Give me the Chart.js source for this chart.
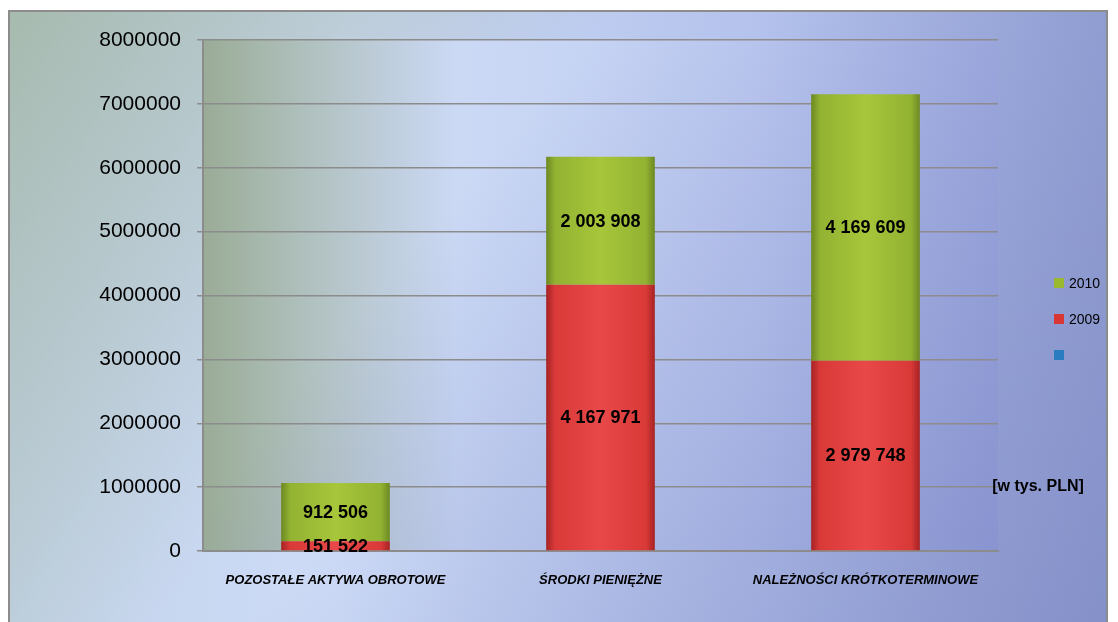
<!DOCTYPE html>
<html>
<head>
<meta charset="utf-8">
<script src="https://cdn.jsdelivr.net/npm/chart.js@4/dist/chart.umd.min.js"></script>
<style>
  html, body { margin: 0; padding: 0; background: #fff; }
  #wrap { width: 1118px; height: 622px; }
</style>
</head>
<body>
<div id="wrap"><canvas id="chart" width="1118" height="622"></canvas></div>
<script>
// dane wykresu
const categories = ['POZOSTAŁE AKTYWA OBROTOWE', 'ŚRODKI PIENIĘŻNE', 'NALEŻNOŚCI KRÓTKOTERMINOWE'];
const values2009 = [151522, 4167971, 2979748];
const values2010 = [912506, 2003908, 4169609];
const valuesEmpty = [null, null, null];
const yTicks = [0, 1000000, 2000000, 3000000, 4000000, 5000000, 6000000, 7000000, 8000000];

const FONT = "'Liberation Sans', Arial, sans-serif";

// gradient dla słupka (efekt wypukłości)
function barFill(base, light, dark) {
    return function (c) {
        const chart = c.chart;
        const x = chart.scales.x;
        if (!x || c.dataIndex === undefined) return base;
        const cx = x.getPixelForValue(c.dataIndex);
        if (!isFinite(cx)) return base;
        const hw = 54;
        const g = chart.ctx.createLinearGradient(cx - hw, 0, cx + hw, 0);
        g.addColorStop(0, dark);
        g.addColorStop(0.08, base);
        g.addColorStop(0.5, light);
        g.addColorStop(0.92, base);
        g.addColorStop(1, dark);
        return g;
    };
}

function fmt(v) {
    return String(v).replace(/\B(?=(\d{3})+(?!\d))/g, ' ');
}

// tło ramki i obszaru wykresu
const backgroundPlugin = {
    id: 'bg',
    beforeDraw(chart) {
        const ctx = chart.ctx;
        const a = chart.chartArea;
        ctx.save();
        ctx.fillStyle = '#ffffff';
        ctx.fillRect(0, 0, chart.width, chart.height);

        // zewnętrzne tło
        let g = ctx.createLinearGradient(9, 0, 1107, 0);
        g.addColorStop(0, '#c4d4ea');
        g.addColorStop(0.3, '#cddbf7');
        g.addColorStop(0.7, '#b3c1ec');
        g.addColorStop(1, '#98a6d8');
        ctx.fillStyle = g;
        ctx.fillRect(9, 11, 1098, 620);
        g = ctx.createLinearGradient(9, 11, 400, 300);
        g.addColorStop(0, 'rgba(160,180,160,0.8)');
        g.addColorStop(1, 'rgba(160,180,160,0)');
        ctx.fillStyle = g;
        ctx.fillRect(9, 11, 1098, 620);
        g = ctx.createLinearGradient(600, 200, 1107, 621);
        g.addColorStop(0, 'rgba(120,130,190,0)');
        g.addColorStop(1, 'rgba(120,130,190,0.6)');
        ctx.fillStyle = g;
        ctx.fillRect(9, 11, 1098, 620);
        ctx.strokeStyle = '#8c8c8c';
        ctx.lineWidth = 2;
        ctx.strokeRect(9, 11, 1098, 620);

        // obszar kreślenia
        g = ctx.createLinearGradient(a.left, 0, a.right, 0);
        g.addColorStop(0, '#9aac96');
        g.addColorStop(0.15, '#b3c3c4');
        g.addColorStop(0.32, '#cbd9f5');
        g.addColorStop(0.7, '#c0cdf2');
        g.addColorStop(1, '#aab6e6');
        ctx.fillStyle = g;
        ctx.fillRect(a.left, a.top, a.right - a.left, a.bottom - a.top);
        g = ctx.createLinearGradient(a.left + 300, a.top + 100, a.right, a.bottom);
        g.addColorStop(0, 'rgba(110,120,190,0)');
        g.addColorStop(1, 'rgba(110,120,190,0.55)');
        ctx.fillStyle = g;
        ctx.fillRect(a.left, a.top, a.right - a.left, a.bottom - a.top);
        ctx.restore();
    }
};

// etykiety wartości i legenda
const labelsPlugin = {
    id: 'labels',
    afterDatasetsDraw(chart) {
        const ctx = chart.ctx;
        ctx.save();
        ctx.font = 'bold 18px ' + FONT;
        ctx.fillStyle = '#000';
        ctx.textAlign = 'center';
        ctx.textBaseline = 'middle';
        chart.data.datasets.forEach((ds, i) => {
            const meta = chart.getDatasetMeta(i);
            meta.data.forEach((el, j) => {
                const v = ds.data[j];
                if (v === null) return;
                const p = el.getProps(['x', 'y', 'base'], true);
                ctx.fillText(fmt(v), p.x, (p.y + p.base) / 2 + 1);
            });
        });

        // legenda: 2010, 2009, pusta seria
        const ds = chart.data.datasets;
        [ds[1], ds[0], ds[2]].forEach((d, k) => {
            const y = 283 + k * 36;
            ctx.fillStyle = d.legendColor;
            ctx.fillRect(1054, y - 5, 10, 10);
            ctx.fillStyle = '#000';
            ctx.font = '14px ' + FONT;
            ctx.textAlign = 'left';
            ctx.fillText(d.label, 1069, y + 1);
        });

        ctx.font = 'bold 16px ' + FONT;
        ctx.textAlign = 'center';
        ctx.fillText('[w tys. PLN]', 1038, 487);
        ctx.restore();
    }
};

const data = {
    labels: categories,
    datasets: [
        {
            label: '2009',
            data: values2009,
            legendColor: '#d93636',
            backgroundColor: barFill('#d93a38', '#e84848', '#a82424'),
            borderWidth: 0
        },
        {
            label: '2010',
            data: values2010,
            legendColor: '#9ab830',
            backgroundColor: barFill('#92b232', '#a8c63a', '#6e8a22'),
            borderWidth: 0
        },
        {
            label: '',
            data: valuesEmpty,
            legendColor: '#2a7cc0',
            backgroundColor: '#2a7cc0',
            borderWidth: 0
        }
    ]
};

const config = {
    type: 'bar',
    data: data,
    plugins: [backgroundPlugin, labelsPlugin],
    options: {
        responsive: false,
        animation: false,
        layout: { padding: { top: 40, right: 120, left: 0, bottom: 0 } },
        datasets: {
            bar: { categoryPercentage: 1, barPercentage: 0.41 }
        },
        plugins: {
            legend: { display: false },
            tooltip: { enabled: false }
        },
        scales: {
            x: {
                stacked: true,
                afterFit(scale) { scale.height = 71; },
                grid: { display: false, drawTicks: false },
                border: { color: '#8c8c8c', width: 2 },
                ticks: {
                    color: '#000',
                    padding: 22,
                    maxRotation: 0,
                    font: { family: FONT, size: 13, weight: 'bold', style: 'italic' }
                }
            },
            y: {
                stacked: true,
                min: 0,
                max: 8000000,
                afterFit(scale) { scale.width = 203; },
                afterBuildTicks(scale) { scale.ticks = yTicks.map(v => ({ value: v })); },
                grid: { color: '#8c8c8c', lineWidth: 1.5, tickLength: 6 },
                border: { color: '#8c8c8c', width: 2 },
                ticks: {
                    color: '#000',
                    padding: 16,
                    font: { family: FONT, size: 21 },
                    callback: v => String(v)
                }
            }
        }
    }
};

window.onload = function () {
    const ctx = document.getElementById('chart').getContext('2d');
    new Chart(ctx, config);
};
</script>
</body>
</html>
